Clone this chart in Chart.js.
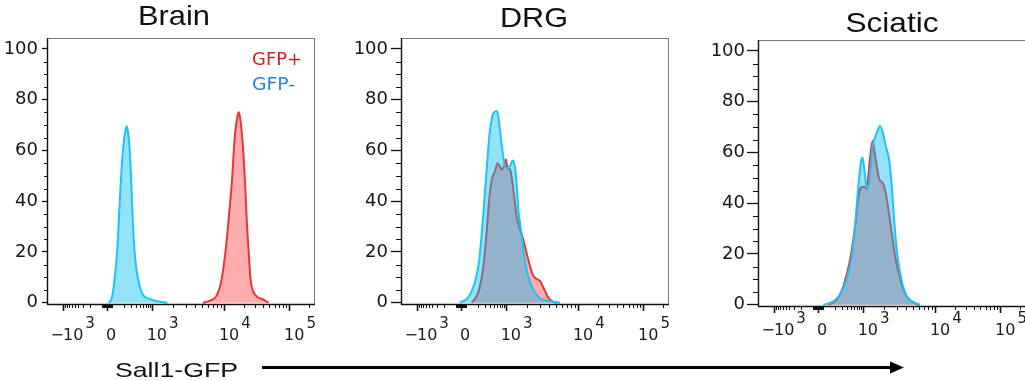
<!DOCTYPE html>
<html lang="en">
<head>
<meta charset="UTF-8"/>
<title>Sall1-GFP histograms</title>
<script src="https://cdn.jsdelivr.net/npm/chart.js"></script>
<style>
  body { margin: 0; background: #fff; width: 1025px; height: 381px; overflow: hidden; position: relative; }
  canvas { position: absolute; top: 0; }
  svg { position: absolute; left: 0; top: 0; pointer-events: none; }
</style>
</head>
<body>
<canvas id="brain" width="340" height="381" style="left:0px"></canvas>
<canvas id="drg" width="340" height="381" style="left:340px"></canvas>
<canvas id="sciatic" width="340" height="381" style="left:690px"></canvas>

<svg width="1025" height="381">
  <g font-family="Liberation Sans, Arial, sans-serif" fill="#111" text-anchor="middle">
    <text x="174" y="24.5" font-size="28" textLength="72" lengthAdjust="spacingAndGlyphs">Brain</text>
    <text x="534" y="27" font-size="28" textLength="68" lengthAdjust="spacingAndGlyphs">DRG</text>
    <text x="892" y="31.5" font-size="28" textLength="93" lengthAdjust="spacingAndGlyphs">Sciatic</text>
  </g>
  <g font-family="DejaVu Sans, sans-serif" font-size="17">
    <text x="252" y="65" fill="#cc1f27" textLength="50" lengthAdjust="spacingAndGlyphs">GFP+</text>
    <text x="252" y="90" fill="#2484d4" textLength="43" lengthAdjust="spacingAndGlyphs">GFP-</text>
  </g>
  <text x="115" y="376.5" font-family="Liberation Sans, Arial, sans-serif" font-size="21" fill="#111"
        textLength="123" lengthAdjust="spacingAndGlyphs">Sall1-GFP</text>
  <line x1="262" y1="367.5" x2="893" y2="367.5" stroke="#000" stroke-width="3"/>
  <polygon points="890,361.5 904,367.5 890,373.5" fill="#000"/>
</svg>

<script>
// histogram data: x in display channels (0-1024), y in % of max
const brainBlueX = [236, 248, 258, 268, 277, 285, 293, 300, 305, 310, 316, 322, 328, 334, 342, 354, 367, 392, 420, 460];
const brainBlueY = [0, 2, 9, 20, 38, 53, 63, 68, 69.5, 67, 60, 47, 32, 21, 13, 6.5, 3, 1.5, 0.6, 0];
const brainRedX = [596, 623, 648, 665, 683, 695, 706, 718, 727, 733, 739, 745, 751, 757, 763, 770, 778, 786, 801, 827, 846];
const brainRedY = [0, 0.8, 2.8, 8, 21, 34, 47, 66, 73, 75, 72, 66, 58, 47, 33, 21, 9, 5, 2.5, 1.2, 0];

const drgBlueX = [225, 256, 279, 298, 313, 327, 336, 346, 355, 367, 376, 386, 396, 405, 417, 427, 436, 443, 448, 461, 470, 480, 499, 531, 569, 608];
const drgBlueY = [0, 2, 7, 16, 33, 52, 64, 72, 75, 75.5, 70, 61, 54.5, 53, 54, 56, 53, 45, 37, 27, 19, 13, 6.5, 1.8, 0.7, 0];
const drgRedX = [270, 295, 315, 327, 337, 347, 359, 369, 378, 385, 394, 401, 406, 417, 429, 442, 455, 467, 486, 506, 531, 544, 563, 582, 595];
const drgRedY = [0, 4, 14.5, 27.6, 40.7, 48.5, 51.8, 55, 53.7, 52.5, 53.7, 56.4, 53.5, 52.5, 44.6, 34, 29, 25, 17, 10.5, 8.6, 6, 2, 0.3, 0];

const sciBlueX = [250, 288, 313, 339, 358, 371, 379, 387, 394, 399, 405, 413, 421, 431, 438, 447, 456, 466, 477, 488, 501, 511, 520, 530, 543, 558, 574, 593, 619];
const sciBlueY = [0, 1.3, 4, 10, 19, 31, 41.5, 50.6, 56.6, 58, 54.6, 47.4, 46, 54.6, 62.5, 65.8, 68.4, 70.4, 67.8, 62.5, 57.2, 46.7, 33.6, 21.7, 12.5, 5.9, 2.6, 1, 0];
const sciRedX = [269, 301, 326, 352, 371, 383, 392, 405, 415, 425, 432, 438, 444, 454, 464, 477, 488, 498, 511, 524, 541, 555, 574, 600, 613];
const sciRedY = [0, 2, 7.2, 17.8, 31, 41.5, 46, 46.5, 45.7, 54.6, 61.2, 64.5, 61.2, 54.6, 49.3, 48, 44, 37.5, 28.3, 19, 11.2, 5.9, 2.6, 0.4, 0];

// axes
const yTicks = [0, 20, 40, 60, 80, 100];
const yMinor = [5, 10, 15, 25, 30, 35, 45, 50, 55, 65, 70, 75, 85, 90, 95];
const xTickValues = [-1000, 0, 1000, 10000, 100000];
const xTickBase = ['\u221210', '0', '10', '10', '10'];
const xTickExp = ['3', '', '3', '4', '5'];

// biexponential display: intensity -> channel
const anchorV = [-1000, -100, 0, 100, 1000, 10000, 100000, 1000000];
const anchorC = [61, 209, 229, 249, 400, 676, 925, 1174];
function toChannel(v) {
  for (let i = 0; i < anchorV.length - 1; i++) {
    const a = anchorV[i], b = anchorV[i + 1];
    if (v >= a && v <= b) {
      let t;
      if (a === 0 || b === 0) t = (v - a) / (b - a);
      else t = (Math.log10(Math.abs(v)) - Math.log10(Math.abs(a))) /
               (Math.log10(Math.abs(b)) - Math.log10(Math.abs(a)));
      return anchorC[i] + t * (anchorC[i + 1] - anchorC[i]);
    }
  }
  return null;
}
const xMinor = [];
[-1, 1].forEach(s => {
  for (let k = 1; k <= 9; k++) { xMinor.push(s * k * 10); xMinor.push(s * k * 100); }
});
for (let k = 2; k <= 9; k++) { xMinor.push(k * 1000); xMinor.push(k * 10000); }
xMinor.push(200000);

function axisPlugin(opt) {
  return {
    id: 'flowAxes',
    afterDraw(chart) {
      const ctx = chart.ctx, a = chart.chartArea, xs = chart.scales.x, ys = chart.scales.y;
      ctx.save();
      ctx.strokeStyle = '#7a7a7a'; ctx.lineWidth = 1;
      ctx.strokeRect(a.left + 0.5, a.top + 0.5, a.right - a.left - 1, a.bottom - a.top);
      ctx.strokeStyle = '#111'; ctx.lineWidth = 1.4;
      ctx.beginPath();
      ctx.moveTo(a.left + 0.5, a.top); ctx.lineTo(a.left + 0.5, a.bottom + 0.5); ctx.lineTo(a.right, a.bottom + 0.5);
      ctx.stroke();

      // y minor ticks
      ctx.lineWidth = 1;
      ctx.beginPath();
      yMinor.forEach(v => {
        const y = Math.round(ys.getPixelForValue(v)) + 0.5;
        ctx.moveTo(a.left - opt.minor, y); ctx.lineTo(a.left, y);
      });
      ctx.stroke();

      // x ticks
      ctx.beginPath();
      xMinor.forEach(v => {
        const c = toChannel(v);
        if (c === null || c > xs.max) return;
        const x = Math.round(xs.getPixelForValue(c)) + 0.5;
        ctx.moveTo(x, a.bottom); ctx.lineTo(x, a.bottom + 4);
      });
      ctx.stroke();
      ctx.lineWidth = 1.6;
      ctx.beginPath();
      xTickValues.forEach(v => {
        const x = Math.round(xs.getPixelForValue(toChannel(v))) + 0.5;
        ctx.moveTo(x, a.bottom); ctx.lineTo(x, a.bottom + 7);
      });
      ctx.stroke();

      // x labels with raised exponents
      ctx.fillStyle = '#1c1c1c';
      ctx.textAlign = 'left';
      ctx.textBaseline = 'alphabetic';
      xTickValues.forEach((v, i) => {
        const x = xs.getPixelForValue(toChannel(v));
        const yb = a.bottom + opt.lab;
        ctx.font = '16px "DejaVu Sans"';
        let base = xTickBase[i], left;
        if (base.startsWith('\u2212')) {
          ctx.textAlign = 'right';
          ctx.fillText('\u2212', x + 1, yb);
          ctx.textAlign = 'left';
          base = base.slice(1);
          left = x;
        } else if (base === '0') {
          left = x - 1;
        } else {
          left = x - 5;
        }
        ctx.fillText(base, left, yb);
        if (xTickExp[i]) {
          const w = ctx.measureText(base).width;
          ctx.font = '15px "DejaVu Sans"';
          ctx.fillText(xTickExp[i], left + w + 2, yb - 12);
        }
      });
      ctx.restore();
    }
  };
}

function makePanel(id, blueX, blueY, redX, redY, opt) {
  const pts = (xs, ys) => xs.map((x, i) => ({ x: x, y: ys[i] }));
  return new Chart(document.getElementById(id), {
    type: 'line',
    data: {
      datasets: [
        { label: 'GFP-', data: pts(blueX, blueY), borderColor: 'rgb(28,196,242)',
          backgroundColor: 'rgba(0,185,240,0.42)', fill: 'origin', borderWidth: 2,
          pointRadius: 0, cubicInterpolationMode: 'monotone' },
        { label: 'GFP+', data: pts(redX, redY), borderColor: 'rgb(238,52,52)',
          backgroundColor: 'rgba(255,70,70,0.45)', fill: 'origin', borderWidth: 2,
          pointRadius: 0, cubicInterpolationMode: 'monotone' }
      ]
    },
    options: {
      responsive: false,
      animation: false,
      events: [],
      layout: { padding: { top: opt.top, right: opt.right, left: 0, bottom: 0 } },
      plugins: { legend: { display: false }, tooltip: { enabled: false }, title: { display: false } },
      scales: {
        x: {
          type: 'linear', min: 0, max: 1024,
          grid: { display: false }, border: { display: false }, ticks: { display: false },
          afterFit: s => { s.height = opt.xh; }
        },
        y: {
          min: -0.5, max: 104.3,
          grid: { drawOnChartArea: false, tickLength: opt.tick, tickColor: '#111', tickWidth: 1.3 },
          border: { display: false },
          afterBuildTicks: s => { s.ticks = yTicks.map(v => ({ value: v })); },
          ticks: { font: { family: 'DejaVu Sans', size: 18 }, color: '#161616', padding: opt.pad },
          afterFit: s => { s.width = opt.yw; }
        }
      }
    },
    plugins: [axisPlugin(opt)]
  });
}

makePanel('brain', brainBlueX, brainBlueY, brainRedX, brainRedY,
  { top: 38, right: 25, xh: 77, yw: 47, tick: 5, pad: 4, minor: 3, lab: 36 });
makePanel('drg', drgBlueX, drgBlueY, drgRedX, drgRedY,
  { top: 38, right: 11, xh: 77, yw: 61, tick: 10, pad: 3, minor: 5, lab: 36 });
makePanel('sciatic', sciBlueX, sciBlueY, sciRedX, sciRedY,
  { top: 40, right: 4, xh: 75, yw: 68, tick: 11, pad: 2, minor: 5, lab: 29 });
</script>
</body>
</html>
